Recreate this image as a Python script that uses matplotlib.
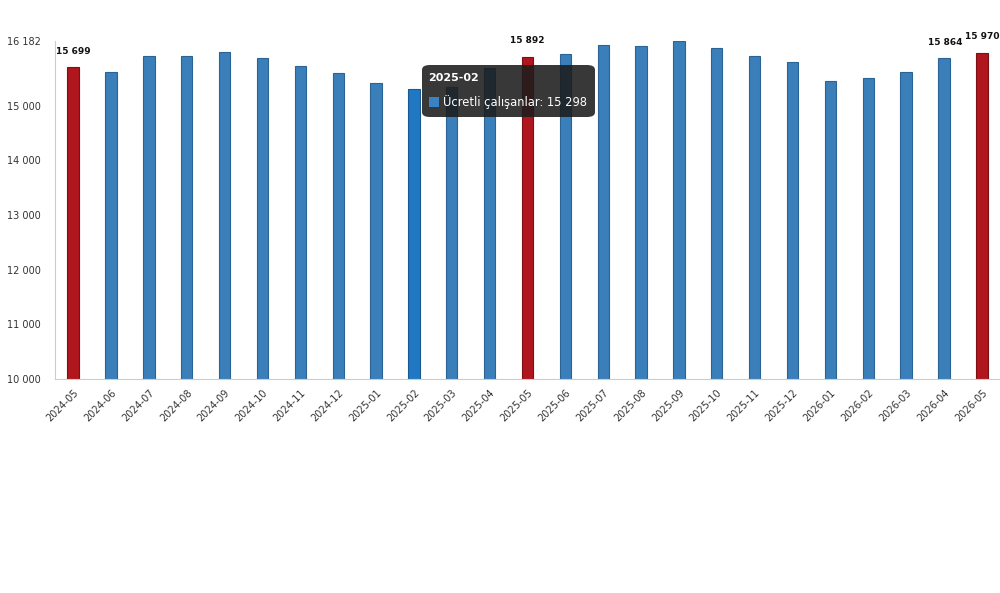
import numpy as np
import matplotlib
matplotlib.use('Agg')
import matplotlib.pyplot as plt
from matplotlib.patches import FancyBboxPatch, Rectangle

months = ['2024-05', '2024-06', '2024-07', '2024-08', '2024-09', '2024-10', '2024-11',
          '2024-12', '2025-01', '2025-02', '2025-03', '2025-04', '2025-05', '2025-06',
          '2025-07', '2025-08', '2025-09', '2025-10', '2025-11', '2025-12', '2026-01',
          '2026-02', '2026-03', '2026-04', '2026-05']
values = [15699, 15620, 15906, 15900, 15987, 15864, 15730, 15588, 15417, 15298,
          15343, 15680, 15892, 15937, 16108, 16096, 16182, 16048, 15906, 15790,
          15454, 15502, 15620, 15864, 15970]
red_months = ['2024-05', '2025-05', '2026-05']
labelled = ['2024-05', '2025-05', '2026-04', '2026-05']
hover = '2025-02'
yticks = [10000, 11000, 12000, 13000, 14000, 15000, 16182]

blue = '#3a7fba'
blue_edge = '#2b6494'
red = '#b0161d'
red_edge = '#7e1014'

fig = plt.figure(figsize=(10, 5.93), dpi=100)
ax = fig.add_axes([0.055, 0.361, 0.945, 0.570])

x = np.arange(len(months))
colors = []
edges = []
for m in months:
    if m in red_months:
        colors.append(red)
        edges.append(red_edge)
    elif m == hover:
        colors.append('#1f78c1')
        edges.append('#175a92')
    else:
        colors.append(blue)
        edges.append(blue_edge)

ax.bar(x, values, width=0.3, color=colors, edgecolor=edges, linewidth=0.8, zorder=2)

ax.set_ylim(10000, 16182)
ax.set_xlim(-0.48, len(months) - 0.52)

ax.set_yticks(yticks)
ax.set_yticklabels(['{:,}'.format(v).replace(',', ' ') for v in yticks])
ax.set_xticks(x)
ax.set_xticklabels(months, rotation=45, ha='right', rotation_mode='anchor')
ax.tick_params(axis='both', length=0, labelsize=7, colors='#333333')
ax.tick_params(axis='y', pad=10)
ax.tick_params(axis='x', pad=6)

for s in ['top', 'right']:
    ax.spines[s].set_visible(False)
ax.spines['left'].set_color('#cccccc')
ax.spines['bottom'].set_color('#cccccc')

# data labels
for i, m in enumerate(months):
    if m in labelled:
        dx = 0
        if m == '2026-04':
            dx = 1
        ax.annotate('{:,}'.format(values[i]).replace(',', ' '), (i, values[i]),
                    xytext=(dx, 11.5), textcoords='offset points',
                    ha='center', va='center', fontsize=6.5, fontweight='bold',
                    color='#111111', annotation_clip=False)

# tooltip
hi = months.index(hover)
W, H = 1000.0, 593.0
box = FancyBboxPatch((422 / W, 1 - 117 / H), 173 / W, 52 / H,
                     boxstyle='round,pad=0,rounding_size=0.008',
                     transform=fig.transFigure, facecolor='#1c1c1c', alpha=0.88,
                     edgecolor='none', zorder=10)
fig.patches.append(box)
fig.text(428 / W, 1 - 78 / H, hover, fontsize=8, fontweight='bold', color='white',
         va='center', ha='left', zorder=11)
sq = Rectangle((429 / W, 1 - 107 / H), 10 / W, 10 / H, transform=fig.transFigure,
               facecolor='#3a82c4', edgecolor='none', zorder=11)
fig.patches.append(sq)
fig.text(443 / W, 1 - 102 / H,
         'Ücretli çalışanlar: ' + '{:,}'.format(values[hi]).replace(',', ' '),
         fontsize=8.3, color='white', va='center', ha='left', zorder=11)

fig.savefig('out.png', dpi=100)
